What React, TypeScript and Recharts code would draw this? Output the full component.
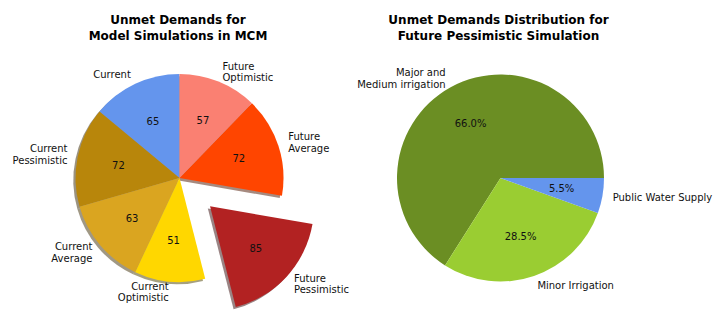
import React from 'react';
import { PieChart, Pie, Cell } from 'recharts';

const scenarioNames = ['Current', 'Current\nPessimistic', 'Current\nAverage', 'Current\nOptimistic', 'Future\nPessimistic', 'Future\nAverage', 'Future\nOptimistic'];
const unmetValues = [65, 72, 63, 51, 85, 72, 57];
const scenarioColors = ['#6495ED', '#B8860B', '#DAA520', '#FFD700', '#B22222', '#FF4500', '#FA8072'];
const explodeFractions = [0, 0, 0, 0, 0.4, 0, 0];

const sectorNames = ['Major and\nMedium irrigation', 'Minor Irrigation', 'Public Water Supply'];
const sectorShares = [66.0, 28.5, 5.5];
const sectorColors = ['#6B8E23', '#9ACD32', '#6495ED'];

const leftTitle = ['Unmet Demands for', 'Model Simulations in MCM'];
const rightTitle = ['Unmet Demands Distribution for', 'Future Pessimistic Simulation'];

const W = 723;
const H = 325;
const LCX = 179.5;
const LCY = 178;
const LR = 104;
const RCX = 500.5;
const RCY = 178;
const RR = 103.5;
const FONT = '"DejaVu Sans", sans-serif';
const RAD = Math.PI / 180;
const SHADOW_DX = -2.2;
const SHADOW_DY = 2.2;

function shade(hex: string) {
  const n = parseInt(hex.slice(1), 16);
  const r = Math.round(((n >> 16) & 255) * 0.3);
  const g = Math.round(((n >> 8) & 255) * 0.3);
  const b = Math.round((n & 255) * 0.3);
  return `rgb(${r},${g},${b})`;
}

function multiText(x: number, y: number, text: string, anchor: string, size: number, key?: string) {
  const lines = text.split('\n');
  const lh = size * 1.17;
  const n = lines.length;
  return (
    <text key={key} x={x} y={y} textAnchor={anchor} fontSize={size} fontFamily={FONT} fill="#111">
      {lines.map((l, i) => (
        <tspan key={i} x={x} y={y + (i - (n - 1) / 2) * lh + size * 0.36}>
          {l}
        </tspan>
      ))}
    </text>
  );
}

function makeLabel(visible: (i: number) => boolean, inner: (p: any) => string, R: number) {
  return (p: any) => {
    if (!visible(p.index)) return null;
    const c = Math.cos(p.midAngle * RAD);
    const s = Math.sin(p.midAngle * RAD);
    const ox = p.cx + R * 1.1 * c;
    const oy = p.cy - R * 1.1 * s;
    const ix = p.cx + R * 0.6 * c;
    const iy = p.cy - R * 0.6 * s;
    const anchor = ox > p.cx ? 'start' : 'end';
    return (
      <g>
        {multiText(ox, oy, p.name, anchor, 10)}
        {multiText(ix, iy, inner(p), 'middle', 10)}
      </g>
    );
  };
}

export default function App() {
  const leftData = scenarioNames.map((name, i) => ({ name, value: unmetValues[i] }));
  const rightData = sectorNames.map((name, i) => ({ name, value: sectorShares[i] }));
  const total = unmetValues.reduce((a, b) => a + b, 0);

  const explodedIdx = explodeFractions.map((f, i) => (f > 0 ? i : -1)).filter((i) => i >= 0);
  const offsets = explodedIdx.map((idx) => {
    const before = unmetValues.slice(0, idx).reduce((a, b) => a + b, 0);
    const mid = 90 + (360 * (before + unmetValues[idx] / 2)) / total;
    const d = explodeFractions[idx] * LR;
    return { idx, dx: Math.cos(mid * RAD) * d, dy: -Math.sin(mid * RAD) * d };
  });

  const isBase = (i: number) => explodeFractions[i] === 0;

  const rightTotal = sectorShares.reduce((a, b) => a + b, 0);

  const titleStyle = (cx: number): React.CSSProperties => ({
    position: 'absolute',
    left: cx - 150,
    width: 300,
    top: 13,
    textAlign: 'center',
    fontFamily: FONT,
    fontWeight: 'bold',
    fontSize: 12,
    lineHeight: '15.5px',
    color: '#000',
  });

  return (
    <div style={{ position: 'absolute', left: 0, top: 0, width: W, height: H, background: '#fff' }}>
      <PieChart width={W} height={H} margin={{ top: 0, right: 0, bottom: 0, left: 0 }}>
        <Pie
          data={leftData}
          dataKey="value"
          cx={LCX + SHADOW_DX}
          cy={LCY + SHADOW_DY}
          outerRadius={LR}
          startAngle={90}
          endAngle={450}
          stroke="none"
          labelLine={false}
          label={false}
          isAnimationActive={false}
        >
          {leftData.map((_, i) => (
            <Cell key={i} fill={isBase(i) ? shade(scenarioColors[i]) : 'none'} fillOpacity={0.5} />
          ))}
        </Pie>
        {offsets.map((o) => (
          <Pie
            key={'sh' + o.idx}
            data={leftData}
            dataKey="value"
            cx={LCX + o.dx + SHADOW_DX}
            cy={LCY + o.dy + SHADOW_DY}
            outerRadius={LR}
            startAngle={90}
            endAngle={450}
            stroke="none"
            labelLine={false}
            label={false}
            isAnimationActive={false}
          >
            {leftData.map((_, i) => (
              <Cell key={i} fill={i === o.idx ? shade(scenarioColors[i]) : 'none'} fillOpacity={0.5} />
            ))}
          </Pie>
        ))}
        <Pie
          data={leftData}
          dataKey="value"
          cx={LCX}
          cy={LCY}
          outerRadius={LR}
          startAngle={90}
          endAngle={450}
          stroke="none"
          labelLine={false}
          label={makeLabel(isBase, (p) => String(p.value), LR)}
          isAnimationActive={false}
        >
          {leftData.map((_, i) => (
            <Cell key={i} fill={isBase(i) ? scenarioColors[i] : 'none'} />
          ))}
        </Pie>
        {offsets.map((o) => (
          <Pie
            key={'ex' + o.idx}
            data={leftData}
            dataKey="value"
            cx={LCX + o.dx}
            cy={LCY + o.dy}
            outerRadius={LR}
            startAngle={90}
            endAngle={450}
            stroke="none"
            labelLine={false}
            label={makeLabel((i) => i === o.idx, (p) => String(p.value), LR)}
            isAnimationActive={false}
          >
            {leftData.map((_, i) => (
              <Cell key={i} fill={i === o.idx ? scenarioColors[i] : 'none'} />
            ))}
          </Pie>
        ))}
        <Pie
          data={rightData}
          dataKey="value"
          cx={RCX}
          cy={RCY}
          outerRadius={RR}
          startAngle={0}
          endAngle={360}
          stroke="none"
          labelLine={false}
          label={makeLabel(() => true, (p) => ((p.value / rightTotal) * 100).toFixed(1) + '%', RR)}
          isAnimationActive={false}
        >
          {rightData.map((_, i) => (
            <Cell key={i} fill={sectorColors[i]} />
          ))}
        </Pie>
      </PieChart>
      <div style={titleStyle(178)}>
        {leftTitle.map((t, i) => (
          <div key={i}>{t}</div>
        ))}
      </div>
      <div style={titleStyle(498.5)}>
        {rightTitle.map((t, i) => (
          <div key={i}>{t}</div>
        ))}
      </div>
    </div>
  );
}
